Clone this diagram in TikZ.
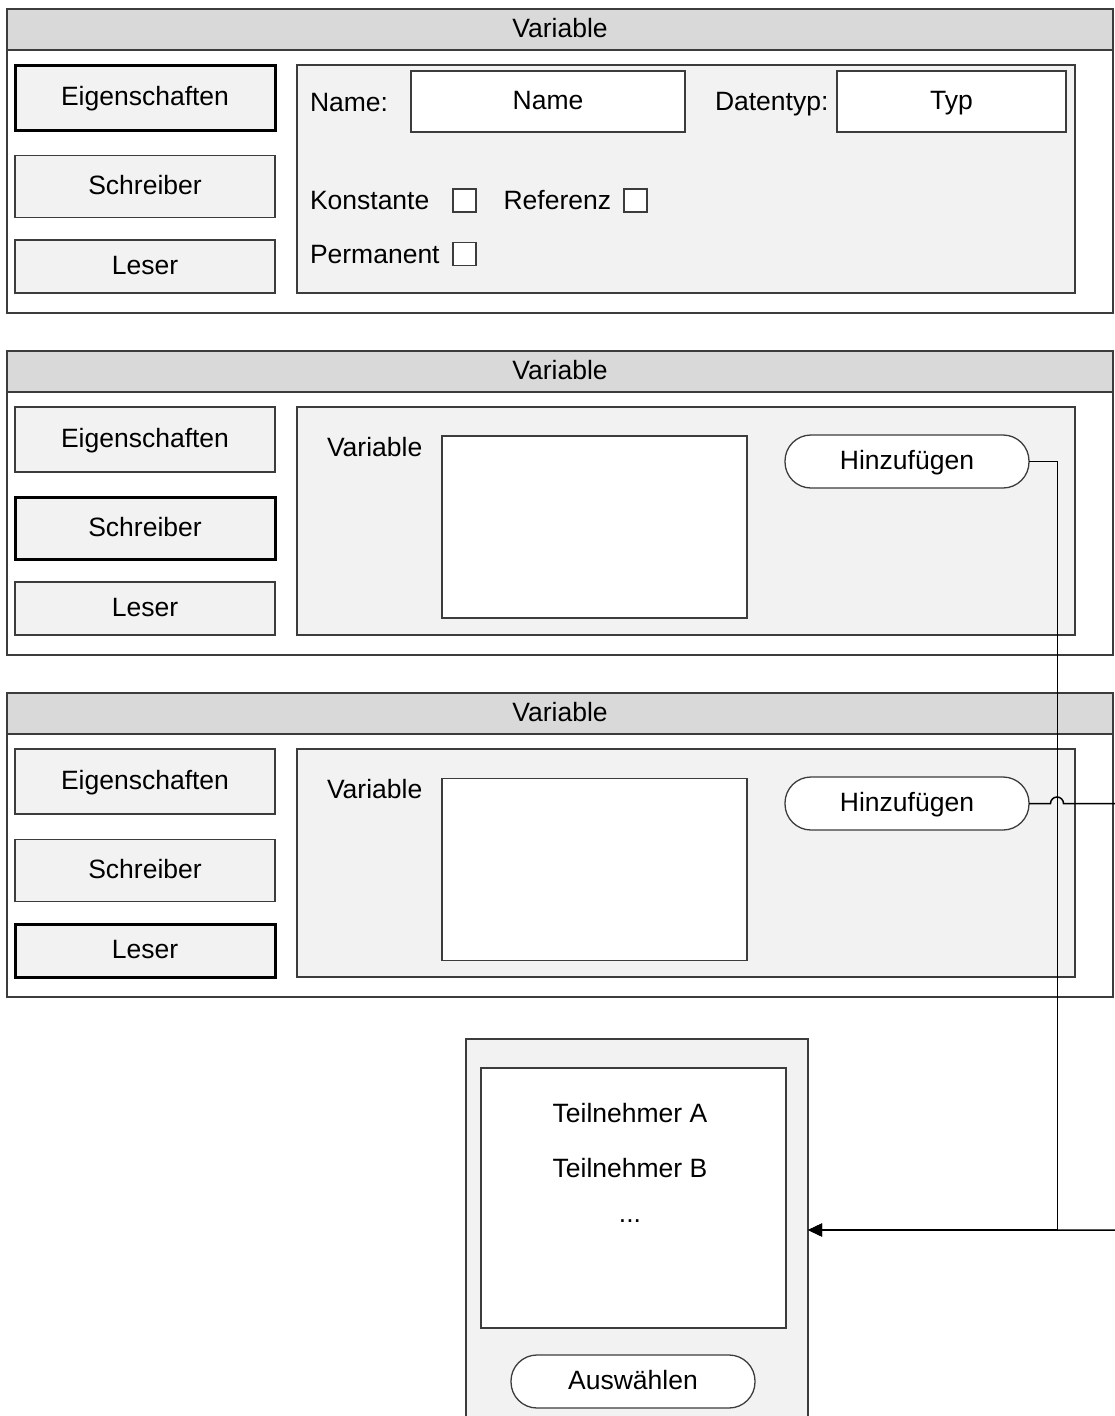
\documentclass[tikz,border=0pt]{standalone}
\usepackage{fontspec}
\setmainfont{Liberation Sans}
\usetikzlibrary{arrows.meta}

\definecolor{hdrfill}{HTML}{D9D9D9}
\definecolor{panefill}{HTML}{F2F2F2}
\definecolor{edgegray}{HTML}{3C3C3C}

\tikzset{
  box/.style={draw=edgegray, line width=1.3pt, inner sep=0pt, outer sep=0pt,
              text height=19pt, text depth=3pt, align=center},
  frame/.style={box, fill=white},
  header/.style={box, fill=hdrfill},
  tab/.style={box, fill=panefill},
  tabsel/.style={box, fill=panefill, draw=black, line width=3pt},
  pane/.style={box, fill=panefill},
  field/.style={box, fill=white},
  check/.style={box, fill=white, minimum width=23pt, minimum height=23pt},
  button/.style={box, fill=white, rounded corners=26pt},
  label/.style={inner sep=0pt, outer sep=0pt, anchor=base west},
  item/.style={inner sep=0pt, outer sep=0pt, anchor=base},
  link/.style={draw=black, line width=1.5pt},
  tip/.style={-{Triangle[length=14pt,width=13pt]}},
}

\begin{document}
\begin{tikzpicture}[x=1pt, y=-1pt, font=\fontsize{26.5}{30}\selectfont]
\useasboundingbox (0,0) rectangle (1114,1416);

% ---------- dialog 1: properties ----------
\node[frame,  minimum width=1106pt, minimum height=304pt] (f1) at (560,161) {};
\node[header, minimum width=1106pt, minimum height=41pt]  (h1head) at (560,29.5) {Variable};
\node[tabsel, minimum width=260pt, minimum height=65pt] (t1a) at (145,97.5)  {Eigenschaften};
\node[tab,    minimum width=260pt, minimum height=62pt] (t1b) at (145,186.5) {Schreiber};
\node[tab,    minimum width=260pt, minimum height=53pt] (t1c) at (145,266.5) {Leser};
\node[pane,   minimum width=778pt, minimum height=228pt] (p1) at (686,179) {};
\node[label] (lname) at (310,111) {Name:};
\node[field, minimum width=274pt, minimum height=61pt] (fname) at (548,101.5) {Name};
\node[label] (ltype) at (715,110.5) {Datentyp:};
\node[field, minimum width=229pt, minimum height=61pt] (ftype) at (951.5,101.5) {Typ};
\node[label] (lconst) at (310,209.5) {Konstante};
\node[check] (cconst) at (464.5,200.5) {};
\node[label] (lref) at (503.6,209.5) {Referenz};
\node[check] (cref) at (635.5,200.5) {};
\node[label] (lperm) at (310,263.5) {Permanent};
\node[check] (cperm) at (464.5,254) {};

% ---------- dialog 2: writers ----------
\node[frame,  minimum width=1106pt, minimum height=304pt] (f2) at (560,503) {};
\node[header, minimum width=1106pt, minimum height=41pt]  (h2head) at (560,371.5) {Variable};
\node[tab,    minimum width=260pt, minimum height=65pt] (t2a) at (145,439.5) {Eigenschaften};
\node[tabsel, minimum width=260pt, minimum height=62pt] (t2b) at (145,528.5) {Schreiber};
\node[tab,    minimum width=260pt, minimum height=53pt] (t2c) at (145,608.5) {Leser};
\node[pane,   minimum width=778pt, minimum height=228pt] (p2) at (686,521) {};
\node[label] (lvar2) at (327,456.7) {Variable};
\node[field, minimum width=305pt, minimum height=182pt] (list2) at (594.5,527) {};
\node[button, minimum width=244pt, minimum height=53pt] (add2) at (907,461.5) {Hinzufügen};

% ---------- dialog 3: readers ----------
\node[frame,  minimum width=1106pt, minimum height=304pt] (f3) at (560,845) {};
\node[header, minimum width=1106pt, minimum height=41pt]  (h3head) at (560,713.5) {Variable};
\node[tab,    minimum width=260pt, minimum height=65pt] (t3a) at (145,781.5) {Eigenschaften};
\node[tab,    minimum width=260pt, minimum height=62pt] (t3b) at (145,870.5) {Schreiber};
\node[tabsel, minimum width=260pt, minimum height=53pt] (t3c) at (145,950.5) {Leser};
\node[pane,   minimum width=778pt, minimum height=228pt] (p3) at (686,863) {};
\node[label] (lvar3) at (327,798.7) {Variable};
\node[field, minimum width=305pt, minimum height=182pt] (list3) at (594.5,869.5) {};
\node[button, minimum width=244pt, minimum height=53pt] (add3) at (907,803.5) {Hinzufügen};

% ---------- participant picker ----------
\node[pane, minimum width=342pt, minimum height=382pt] (dlg) at (637,1230) {};
\node[field, minimum width=305pt, minimum height=260pt] (plist) at (633.5,1198) {};
\node[item] (pa) at (630,1122) {Teilnehmer A};
\node[item] (pb) at (630,1177) {Teilnehmer B};
\node[item] (pc) at (630,1222) {...};
\node[button, minimum width=244pt, minimum height=53pt] (pick) at (633,1381.5) {Auswählen};

% ---------- connectors ----------
\coordinate (merge) at (1057.5,1230);
\coordinate (jumpL) at (1050.5,803.5);
\coordinate (farR)  at (1118,803.5);
\coordinate (farRb) at (1118,1230);

\draw[link, tip] (add2.east) -| (merge) -- (dlg.east);
\draw[link, tip] (add3.east) -- (jumpL)
  arc[start angle=180, end angle=0, radius=6.5pt] -- (farR) -- (farRb) -- (dlg.east);
\end{tikzpicture}
\end{document}
